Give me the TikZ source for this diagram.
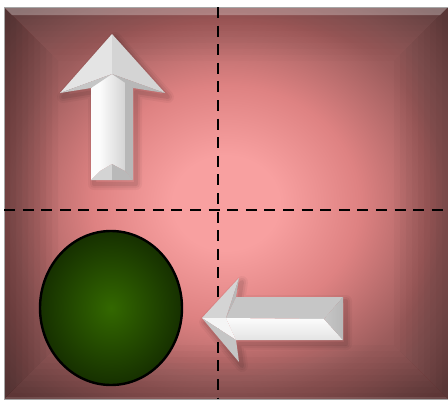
\documentclass[tikz,border=0pt]{standalone}
\usetikzlibrary{shapes.geometric}
\definecolor{bgA}{RGB}{248,160,160}
\definecolor{bgB}{RGB}{222,130,130}
\definecolor{bgC}{RGB}{156,92,92}
\definecolor{bgD}{RGB}{116,72,72}
\definecolor{ballin}{RGB}{51,104,0}
\definecolor{ballout}{RGB}{22,48,0}
\definecolor{gA}{RGB}{252,252,252}
\definecolor{gB}{RGB}{228,228,228}
\definecolor{gC}{RGB}{212,212,212}
\definecolor{gD}{RGB}{198,198,198}
\definecolor{gE}{RGB}{184,184,184}
\pgfdeclareradialshading{bgshade}{\pgfpoint{0bp}{0bp}}{color(0bp)=(bgA); color(6bp)=(bgA); color(15bp)=(bgB); color(25bp)=(bgC); color(34bp)=(bgD); color(50bp)=(bgD)}
\tikzset{
  dashline/.style={black, line width=2.6pt, dash pattern=on 11pt off 7.6pt},
  ball/.style={ellipse, minimum width=142pt, minimum height=154pt, inner sep=0pt,
    draw=black, line width=2.4pt, inner color=ballin, outer color=ballout},
  facet/.style={line join=round},
  shadowpart/.style={black, line join=round}
}
\begin{document}
\begin{tikzpicture}[x=1pt,y=-1pt]
\useasboundingbox (0,0) rectangle (448,402);
\fill[white] (0,0) rectangle (448,402);
% background panel
\shade[shading=bgshade] (4,7) rectangle (448,399);
\foreach \w in {6,12,...,54} {
  \fill[black,opacity=0.024] (448,7) -- (448,399) -- (448-\w,399-\w) -- (448-\w,7+\w) -- cycle;
  \fill[black,opacity=0.020] (4,399) -- (448,399) -- (448-\w,399-\w) -- (4+\w,399-\w) -- cycle;
  \fill[black,opacity=0.030] (4,7) -- (4+\w,7+\w) -- (4+\w,399-\w) -- (4,399) -- cycle;
  \fill[black,opacity=0.012] (4,7) -- (448,7) -- (448-\w,7+\w) -- (4+\w,7+\w) -- cycle;
}
\fill[white,opacity=0.28] (4,7) -- (448,7) -- (440,15) -- (12,15) -- cycle;
\fill[white,opacity=0.10] (4,399) -- (448,399) -- (446,397) -- (6,397) -- cycle;
\draw[black!35,line width=0.6pt] (4,7) rectangle (448,399);
% dashed guides
\draw[dashline] (218,7) -- (218,399);
\draw[dashline] (4,210) -- (448,210);
% ball
\node[ball] (ball) at (111,308) {};
% ---------- up arrow ----------
\coordinate (T) at (112,34);
\coordinate (HR) at (165,93);
\coordinate (SR) at (133,88);
\coordinate (BR) at (133,180);
\coordinate (BL) at (91,180);
\coordinate (SL) at (91,88);
\coordinate (HL) at (60,93);
\coordinate (C) at (112,74);
\coordinate (SLi) at (100,80);
\coordinate (SRi) at (125,80);
\coordinate (BLi) at (100,171);
\coordinate (BRi) at (125,171);
\coordinate (Bc) at (112,164);
\coordinate (Bm) at (112,180);
\begin{scope}[shift={(3,4)}]
  \foreach \k/\o in {12/0.04,8/0.05,4/0.07}
    \draw[shadowpart, line width=\k pt, opacity=\o] (112,34) -- (165,93) -- (133,88) -- (133,180) -- (91,180) -- (91,88) -- (60,93) -- cycle;
\end{scope}
\fill[facet, gA] (SL) -- (BL) -- (BLi) -- (SLi) -- cycle;
\shade[facet, left color=gA!95!gB, right color=gC] (SLi) -- (BLi) -- (Bc) -- (BRi) -- (SRi) -- (C) -- cycle;
\fill[facet, gE] (SRi) -- (BRi) -- (BR) -- (SR) -- cycle;
\fill[facet, gC] (BL) -- (Bm) -- (Bc) -- (BLi) -- cycle;
\fill[facet, gE!90!gD] (Bm) -- (BR) -- (BRi) -- (Bc) -- cycle;
\fill[facet, gB] (T) -- (HL) -- (C) -- cycle;
\fill[facet, gC] (T) -- (C) -- (HR) -- cycle;
\fill[facet, gD] (HL) -- (SL) -- (C) -- cycle;
\fill[facet, gE] (HR) -- (C) -- (SR) -- cycle;
% ---------- left arrow ----------
\coordinate (T2) at (202,318);
\coordinate (HT) at (239,278);
\coordinate (ST) at (236,297);
\coordinate (ER) at (343,297);
\coordinate (EB) at (343,340);
\coordinate (SB) at (236,340);
\coordinate (HB) at (239,362);
\coordinate (C2) at (226,318);
\coordinate (Ei) at (324,319);
\begin{scope}[shift={(3,4)}]
  \foreach \k/\o in {12/0.04,8/0.05,4/0.07}
    \draw[shadowpart, line width=\k pt, opacity=\o] (202,318) -- (239,278) -- (236,297) -- (343,297) -- (343,340) -- (236,340) -- (239,362) -- cycle;
\end{scope}
\fill[facet, gD] (ST) -- (ER) -- (Ei) -- (C2) -- cycle;
\shade[facet, top color=gA, bottom color=gB] (C2) -- (Ei) -- (EB) -- (SB) -- cycle;
\shade[facet, left color=gD, right color=gE] (ER) -- (EB) -- (Ei) -- cycle;
\fill[facet, gC] (T2) -- (HT) -- (C2) -- cycle;
\fill[facet, gE] (HT) -- (ST) -- (C2) -- cycle;
\fill[facet, gA!70!gB] (T2) -- (C2) -- (SB) -- cycle;
\fill[facet, gD!90!gE] (T2) -- (SB) -- (HB) -- cycle;
\end{tikzpicture}
\end{document}
